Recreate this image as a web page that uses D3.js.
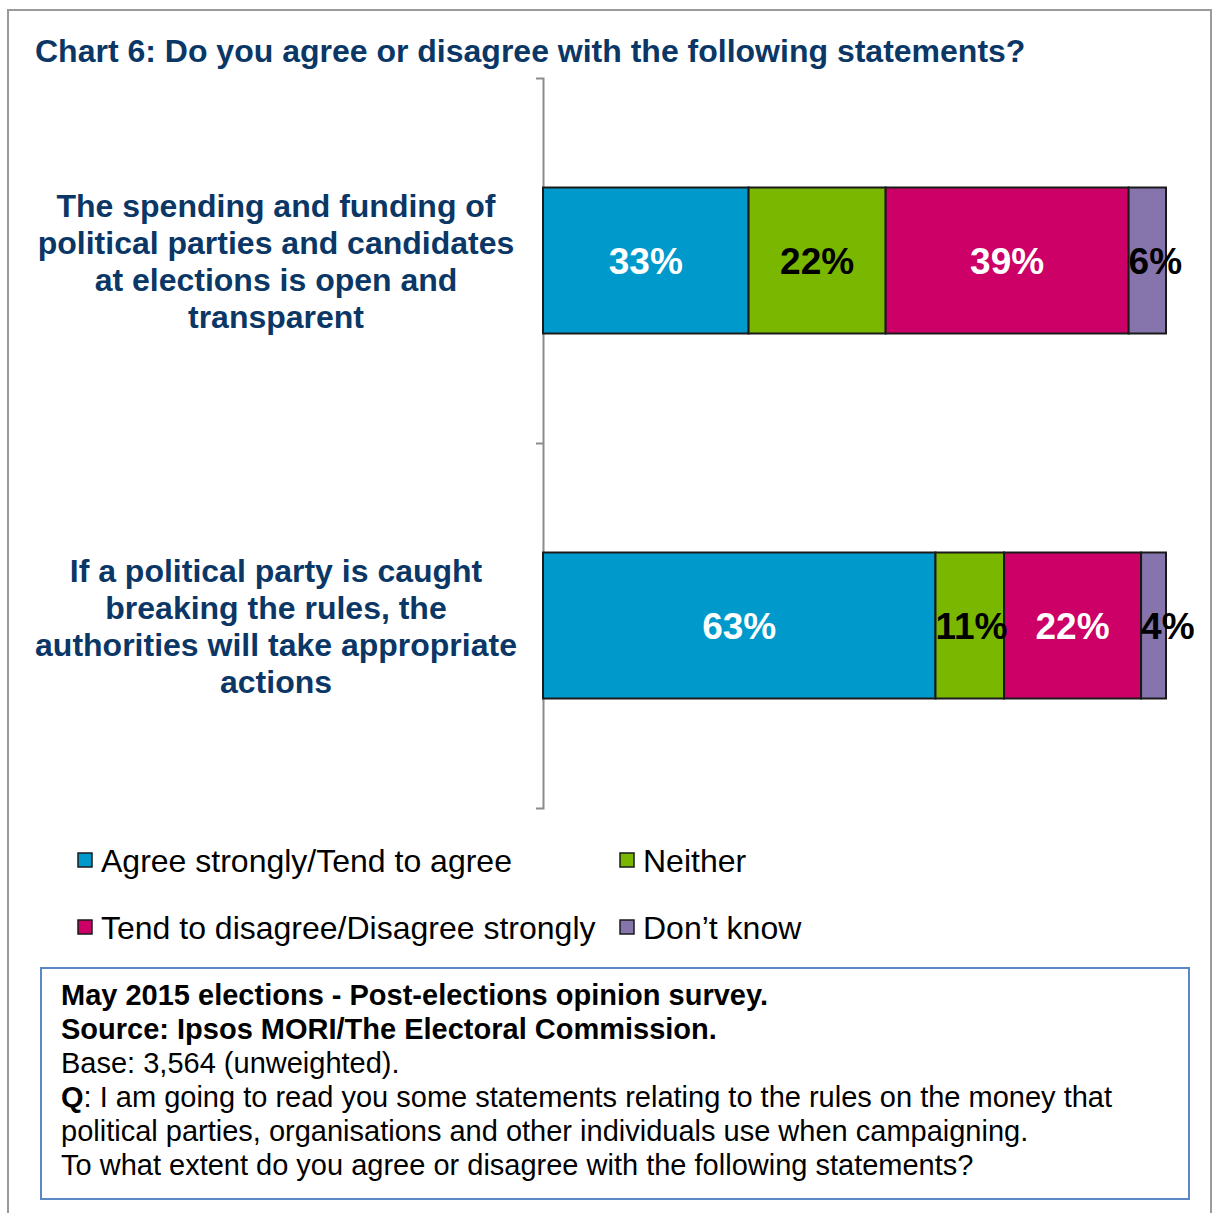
<!DOCTYPE html>
<html>
<head>
<meta charset="utf-8">
<script src="https://cdn.jsdelivr.net/npm/d3@7"></script>
<style>
  html, body { margin: 0; padding: 0; background: #fff; }
  svg { display: block; font-family: "Liberation Sans", Arial, sans-serif; }
</style>
</head>
<body>
<svg id="chart" width="1213" height="1213"></svg>
<script>
// Survey statements (one stacked bar each)
const statements = [
  ["The spending and funding of", "political parties and candidates", "at elections is open and", "transparent"],
  ["If a political party is caught", "breaking the rules, the", "authorities will take appropriate", "actions"]
];
const statementIds = ["spending", "rules"];

// Response categories and their shares (%)
const responses = ["Agree strongly/Tend to agree", "Neither", "Tend to disagree/Disagree strongly", "Don\u2019t know"];
const agree    = [33, 63];
const neither  = [22, 11];
const disagree = [39, 22];
const dontKnow = [6, 4];

const colors = ["#0099cc", "#79b700", "#cc0066", "#8674ad"];
const labelColors = ["#ffffff", "#000000", "#ffffff", "#000000"];

const titleText = "Chart 6: Do you agree or disagree with the following statements?";
const noteLines = [
  [{t: "May 2015 elections - Post-elections opinion survey.", b: true}],
  [{t: "Source: Ipsos MORI/The Electoral Commission.", b: true}],
  [{t: "Base: 3,564 (unweighted).", b: false}],
  [{t: "Q", b: true}, {t: ": I am going to read you some statements relating to the rules on the money that", b: false}],
  [{t: "political parties, organisations and other individuals use when campaigning.", b: false}],
  [{t: "To what extent do you agree or disagree with the following statements?", b: false}]
];

const svg = d3.select("#chart");
const navy = "#0b3766";

// Outer frame
svg.append("rect")
  .attr("x", 8).attr("y", 10).attr("width", 1203).attr("height", 1215)
  .attr("fill", "none").attr("stroke", "#9a9a9a").attr("stroke-width", 2);

// Title
svg.append("text")
  .attr("x", 35).attr("y", 62)
  .attr("font-size", 32).attr("font-weight", "bold").attr("fill", navy)
  .text(titleText);

// Build stacked table
const rows = statementIds.map((id, i) => ({
  id, values: [agree[i], neither[i], disagree[i], dontKnow[i]]
}));
const stacked = rows.map(r => {
  let acc = 0;
  return r.values.map((v, k) => {
    const s = {id: r.id, k, v, x0: acc, x1: acc + v};
    acc += v;
    return s;
  });
});

const plotTop = 78, plotBottom = 808, plotLeft = 543, plotRight = 1166;

const x = d3.scaleLinear().domain([0, 100]).range([plotLeft, plotRight]);
const y = d3.scaleBand().domain(statementIds).range([plotTop, plotBottom])
  .paddingInner(0.6).paddingOuter(0.3);

// Category axis: line with ticks at band boundaries
const yEdges = d3.scaleLinear().domain([0, statementIds.length]).range([plotTop, plotBottom]);
const axisG = svg.append("g")
  .attr("transform", `translate(${plotLeft},0)`)
  .call(d3.axisLeft(yEdges).tickValues(d3.range(1, statementIds.length))
    .tickSize(7).tickSizeOuter(7).tickFormat(""));
axisG.selectAll("path, line").attr("stroke", "#8c8c8c").attr("stroke-width", 2);

// Bars
const barG = svg.append("g");
stacked.forEach(segs => {
  barG.selectAll(null).data(segs).enter().append("rect")
    .attr("x", d => x(d.x0))
    .attr("y", d => y(d.id))
    .attr("width", d => x(d.x1) - x(d.x0))
    .attr("height", y.bandwidth())
    .attr("fill", d => colors[d.k])
    .attr("stroke", "#1a1a1a").attr("stroke-width", 2);
});

// Value labels: centred in the segment, or starting at its left edge
// when the label is wider than the segment
stacked.forEach(segs => {
  barG.selectAll(null).data(segs).enter().append("text")
    .attr("y", d => y(d.id) + y.bandwidth() / 2)
    .attr("dy", "0.36em")
    .attr("font-size", 37).attr("font-weight", "bold")
    .attr("fill", d => labelColors[d.k])
    .text(d => d.v + "%")
    .each(function(d) {
      const w = this.getComputedTextLength();
      const segW = x(d.x1) - x(d.x0);
      if (w > segW) {
        d3.select(this).attr("text-anchor", "start").attr("x", x(d.x0));
      } else {
        d3.select(this).attr("text-anchor", "middle").attr("x", (x(d.x0) + x(d.x1)) / 2);
      }
    });
});

// Statement labels
statementIds.forEach((id, i) => {
  const lines = statements[i];
  const cy = y(id) + y.bandwidth() / 2;
  const lh = 37;
  const t = svg.append("text")
    .attr("text-anchor", "middle")
    .attr("font-size", 32).attr("font-weight", "bold").attr("fill", navy);
  lines.forEach((ln, j) => {
    t.append("tspan")
      .attr("x", 276)
      .attr("y", cy + (j - (lines.length - 1) / 2) * lh)
      .attr("dy", "0.36em")
      .text(ln);
  });
});

// Legend
const legendPos = [[78, 860], [620, 860], [78, 927], [620, 927]];
const leg = svg.append("g");
responses.forEach((name, k) => {
  const [lx, ly] = legendPos[k];
  leg.append("rect")
    .attr("x", lx).attr("y", ly - 7).attr("width", 14).attr("height", 14)
    .attr("fill", colors[k]).attr("stroke", "#1a1a1a").attr("stroke-width", 1.5);
  leg.append("text")
    .attr("x", lx + 23).attr("y", ly).attr("dy", "0.36em")
    .attr("font-size", 32).attr("fill", "#000")
    .text(name);
});

// Note box
svg.append("rect")
  .attr("x", 41).attr("y", 968).attr("width", 1148).attr("height", 231)
  .attr("fill", "#fff").attr("stroke", "#5b88c4").attr("stroke-width", 2);
noteLines.forEach((parts, i) => {
  const t = svg.append("text")
    .attr("x", 61).attr("y", 1005 + i * 34)
    .attr("font-size", 29).attr("fill", "#000");
  parts.forEach(p => {
    t.append("tspan").attr("font-weight", p.b ? "bold" : "normal").text(p.t);
  });
});
</script>
</body>
</html>
